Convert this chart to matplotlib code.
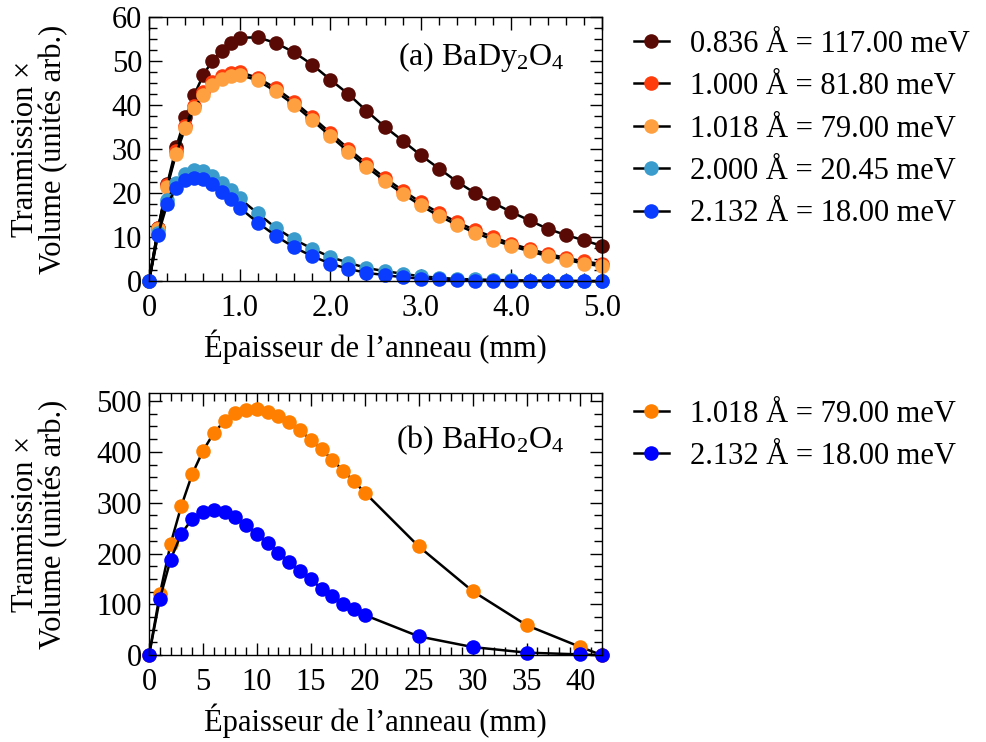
import numpy as np
import matplotlib
matplotlib.use('Agg')
import matplotlib.pyplot as plt
from matplotlib.ticker import MultipleLocator, FuncFormatter

plt.rcParams['font.family'] = ['Liberation Serif', 'DejaVu Serif']
plt.rcParams['mathtext.fontset'] = 'custom'
plt.rcParams['mathtext.rm'] = 'Liberation Serif'
plt.rcParams['mathtext.it'] = 'Liberation Serif:italic'

# ---- (a) BaDy2O4 ----
thick_a = [0.0, 0.1, 0.2, 0.3, 0.4, 0.5, 0.6, 0.7, 0.8, 0.9, 1.0,
           1.2, 1.4, 1.6, 1.8, 2.0, 2.2, 2.4, 2.6, 2.8, 3.0,
           3.2, 3.4, 3.6, 3.8, 4.0, 4.2, 4.4, 4.6, 4.8, 5.0]
dy_0836 = [0.0, 12.0, 22.0, 30.5, 37.2, 42.4, 46.9, 50.1, 52.4, 54.1, 55.3,
           55.4, 54.1, 52.0, 49.2, 45.8, 42.5, 38.7, 35.1, 31.9, 28.6,
           25.6, 22.6, 20.0, 17.8, 15.7, 13.8, 11.9, 10.5, 9.3, 8.0]
dy_1000 = [0.0, 12.0, 21.8, 29.5, 35.3, 39.9, 43.0, 45.2, 46.6, 47.3, 47.5,
           46.2, 43.8, 40.8, 37.3, 33.7, 30.1, 26.7, 23.5, 20.6, 17.9,
           15.5, 13.4, 11.6, 10.0, 8.5, 7.3, 6.2, 5.3, 4.5, 3.9]
dy_1018 = [0.0, 11.9, 21.4, 29.0, 34.8, 39.3, 42.4, 44.6, 45.9, 46.7, 46.9,
           45.6, 43.1, 40.1, 36.6, 33.0, 29.4, 26.0, 22.8, 19.9, 17.2,
           14.8, 12.8, 11.0, 9.4, 8.0, 6.8, 5.7, 4.9, 4.0, 3.4]
dy_2000 = [0.0, 11.0, 18.4, 22.2, 24.3, 25.3, 25.1, 23.9, 22.4, 20.7, 18.8,
           15.4, 12.1, 9.5, 7.4, 5.5, 4.2, 3.0, 2.3, 1.7, 1.1,
           0.8, 0.5, 0.4, 0.3, 0.2, 0.15, 0.1, 0.1, 0.05, 0.05]
dy_2132 = [0.0, 10.6, 17.5, 21.1, 22.9, 23.5, 23.2, 22.0, 20.3, 18.6, 16.7,
           13.3, 10.3, 7.7, 5.7, 4.0, 2.8, 1.9, 1.4, 0.9, 0.6,
           0.4, 0.25, 0.15, 0.1, 0.08, 0.05, 0.03, 0.02, 0.01, 0.0]
labels_a = ['0.836 Å = 117.00 meV', '1.000 Å = 81.80 meV', '1.018 Å = 79.00 meV',
            '2.000 Å = 20.45 meV', '2.132 Å = 18.00 meV']
colors_a = ['#5a0a04', '#ff3c0c', '#ffa040', '#3a9ccc', '#0a3cff']

# ---- (b) BaHo2O4 ----
thick_b = [0, 1, 2, 3, 4, 5, 6, 7, 8, 9, 10, 11, 12, 13, 14, 15, 16, 17, 18, 19, 20,
           25, 30, 35, 40, 42]
ho_1018 = [0, 120, 219, 294, 356, 402, 437, 461, 476, 482, 484, 479, 471, 458, 443,
           423, 405, 384, 363, 342, 320, 214, 126, 59, 16, 0]
ho_2132 = [0, 111, 188, 239, 268, 281, 286, 281, 272, 257, 239, 221, 202, 183, 166,
           149, 131, 116, 101, 90, 79, 37, 16, 5, 1.5, 0]
labels_b = ['1.018 Å = 79.00 meV', '2.132 Å = 18.00 meV']
colors_b = ['#ff8000', '#0000ff']

FS = 22
YLAB = 'Tranmission ×\nVolume (unités arb.)'
XLAB = 'Épaisseur de l’anneau (mm)'

fig = plt.figure(figsize=(9.87, 7.42), dpi=100)
ax1 = fig.add_axes([0.151, 0.621, 0.459, 0.356])
ax2 = fig.add_axes([0.151, 0.117, 0.459, 0.3535])


def style_axis(ax):
    ax.tick_params(which='both', direction='in', top=True, right=True,
                   labelsize=FS, width=1.0)
    ax.tick_params(axis='x', which='both', pad=9)
    ax.tick_params(axis='y', which='both', pad=5)
    ax.tick_params(which='major', length=9)
    ax.tick_params(which='minor', length=5.5)
    for sp in ax.spines.values():
        sp.set_linewidth(1.0)
    ax.set_xlabel(XLAB, fontsize=FS, labelpad=5)
    ax.set_ylabel(YLAB, fontsize=FS, linespacing=0.95)
    ax.yaxis.set_label_coords(-0.178, 0.5)


def add_legend(ax, ytop):
    ax.legend(loc='upper left', bbox_to_anchor=(0.642, ytop), bbox_transform=fig.transFigure,
              frameon=False, fontsize=FS, handlelength=1.15, handletextpad=0.7,
              labelspacing=0.44, borderaxespad=0, borderpad=0, numpoints=1)


for ys, c, lab in zip([dy_0836, dy_1000, dy_1018, dy_2000, dy_2132], colors_a, labels_a):
    ax1.plot(thick_a, ys, '-o', color='black', lw=1.8, markersize=10.5,
             markerfacecolor=c, markeredgecolor=c, markeredgewidth=0, label=lab,
             clip_on=False)
ax1.set_xlim(0, 5.0)
ax1.set_ylim(0, 60)
ax1.xaxis.set_major_locator(MultipleLocator(1.0))
ax1.xaxis.set_minor_locator(MultipleLocator(0.2))
ax1.yaxis.set_major_locator(MultipleLocator(10))
ax1.yaxis.set_minor_locator(MultipleLocator(2.5))
ax1.xaxis.set_major_formatter(FuncFormatter(lambda v, p: '0' if v == 0 else f'{v:.1f}'))
style_axis(ax1)
ax1.text(0.916, 0.85, '(a) BaDy$_2$O$_4$', transform=ax1.transAxes, ha='right',
         va='center', fontsize=FS + 1)
add_legend(ax1, 0.96)

for ys, c, lab in zip([ho_1018, ho_2132], colors_b, labels_b):
    ax2.plot(thick_b, ys, '-o', color='black', lw=1.8, markersize=10.5,
             markerfacecolor=c, markeredgecolor=c, markeredgewidth=0, label=lab,
             clip_on=False)
ax2.set_xlim(0, 42)
ax2.set_ylim(0, 516)
ax2.xaxis.set_major_locator(MultipleLocator(5))
ax2.xaxis.set_minor_locator(MultipleLocator(1))
ax2.yaxis.set_major_locator(MultipleLocator(100))
ax2.yaxis.set_minor_locator(MultipleLocator(25))
style_axis(ax2)
ax2.text(0.916, 0.82, '(b) BaHo$_2$O$_4$', transform=ax2.transAxes, ha='right',
         va='center', fontsize=FS + 1)
add_legend(ax2, 0.4613)

fig.savefig('out.png', dpi=100)
